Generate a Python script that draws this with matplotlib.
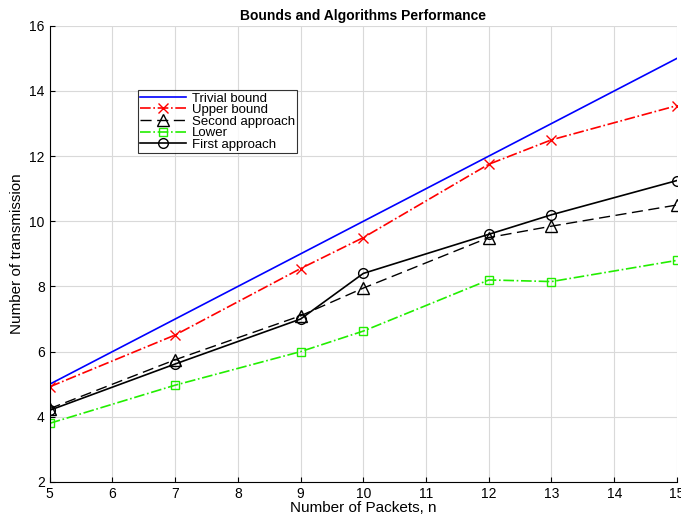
import numpy as np
import matplotlib
matplotlib.use("Agg")
import matplotlib.pyplot as plt

plt.rcParams['font.family'] = ['Liberation Sans', 'DejaVu Sans']

# packet counts
n = [5, 7, 9, 10, 12, 13, 15]

trivial = [5, 7, 9, 10, 12, 13, 15]
upper = [4.92, 6.51, 8.55, 9.5, 11.75, 12.5, 13.55]
second = [4.25, 5.75, 7.1, 7.95, 9.5, 9.85, 10.5]
lower = [3.8, 4.97, 6.0, 6.63, 8.2, 8.15, 8.8]
first = [4.2, 5.62, 7.0, 8.4, 9.6, 10.2, 11.25]

xticks = list(range(5, 16))
yticks = list(range(2, 17, 2))

fig = plt.figure(figsize=(6.81, 5.16), dpi=100)
ax = fig.add_axes([0.073, 0.066, 0.921, 0.884])

ax.plot(n, trivial, color='blue', linewidth=1.2, label='Trivial bound')
ax.plot(n, upper, color='red', linestyle='-.', marker='x', markersize=7,
        linewidth=1.2, label='Upper bound')
ax.plot(n, second, color='black', linestyle=(0, (8, 4)), marker='^', markersize=8,
        markerfacecolor='none', linewidth=1.0, label='Second approach')
ax.plot(n, lower, color='#22ee00', linestyle='-.', marker='s', markersize=6,
        markerfacecolor='none', linewidth=1.2, label='Lower')
ax.plot(n, first, color='black', linestyle='-', marker='o', markersize=7,
        markerfacecolor='none', linewidth=1.2, label='First approach')

ax.set_xlim(5, 15)
ax.set_ylim(2, 16)
ax.set_xticks(xticks)
ax.set_yticks(yticks)
ax.spines['top'].set_visible(False)
ax.spines['right'].set_visible(False)
ax.tick_params(direction='in', labelsize=10)
ax.grid(True, color='#d9d9d9', linewidth=0.8)
ax.set_axisbelow(True)

ax.set_xlabel('Number of Packets, n', fontsize=11, labelpad=0)
ax.set_ylabel('Number of transmission', fontsize=11)
ax.set_title('Bounds and Algorithms Performance', fontsize=10, fontweight='bold', pad=4)

leg = ax.legend(loc='upper left', bbox_to_anchor=(0.14, 0.86), fontsize=9.5,
                frameon=True, fancybox=False, edgecolor='black', borderpad=0.2,
                labelspacing=-0.05, handlelength=3.5, handletextpad=0.4,
                borderaxespad=0)
leg.get_frame().set_linewidth(0.8)

fig.savefig('out.png', dpi=100)
